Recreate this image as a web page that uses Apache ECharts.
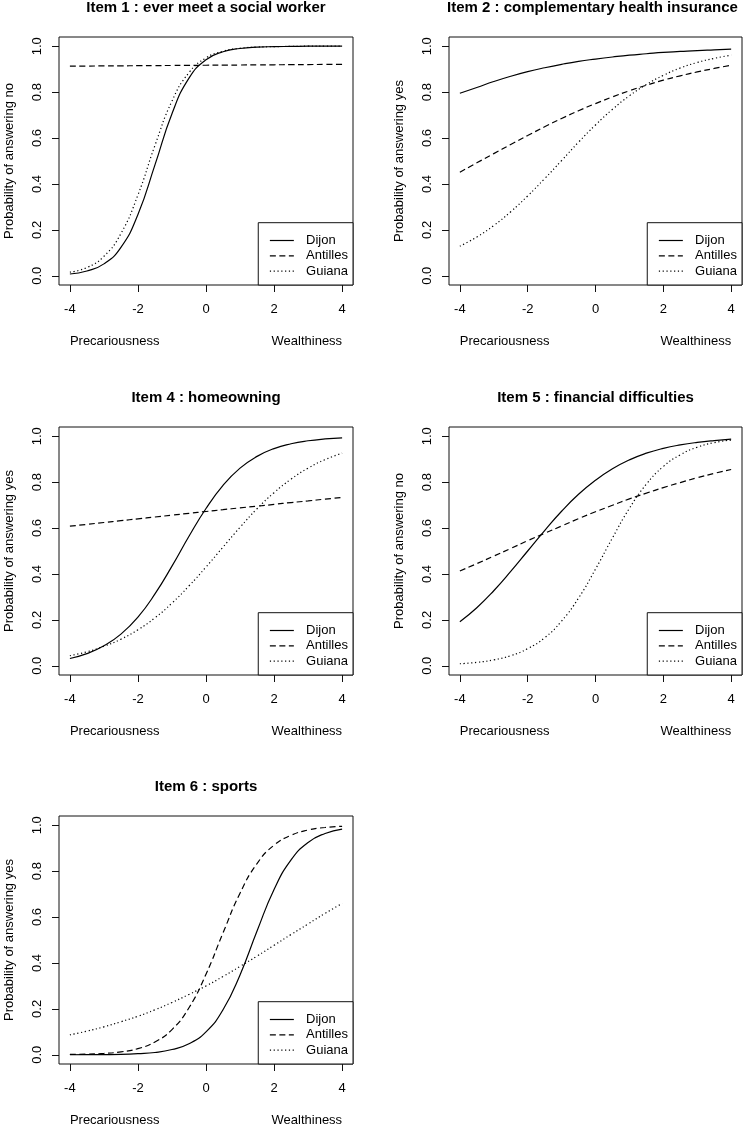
<!DOCTYPE html>
<html>
<head>
<meta charset="utf-8">
<title>Item response curves</title>
<script src="https://cdn.jsdelivr.net/npm/echarts@6/dist/echarts.min.js"></script>
<style>
  html, body { margin: 0; padding: 0; background: #fff; }
  #chart { width: 745px; height: 1124px; }
</style>
</head>
<body>
<div id="chart"></div>
<script>
const xs = [-4, -3.5, -3, -2.5, -2, -1.5, -1, -0.5, 0, 0.5, 1, 1.5, 2, 2.5, 3, 3.5, 4];
const xTicks = [-4, -2, 0, 2, 4];
const yTicks = [0, 0.2, 0.4, 0.6, 0.8, 1];
const groups = ['Dijon', 'Antilles', 'Guiana'];
const titles = [
  'Item 1 : ever meet a social worker',
  'Item 2 : complementary health insurance',
  'Item 4 : homeowning',
  'Item 5 : financial difficulties',
  'Item 6 : sports'
];
const yNames = [
  'Probability of answering no',
  'Probability of answering yes',
  'Probability of answering yes',
  'Probability of answering no',
  'Probability of answering yes'
];

const item1Dijon = [0.008, 0.021, 0.052, 0.124, 0.267, 0.483, 0.706, 0.861, 0.941, 0.976, 0.990, 0.996, 0.998, 0.999, 1.0, 1.0, 1.0];
const item1Antilles = [0.913, 0.9135, 0.914, 0.9145, 0.915, 0.9155, 0.916, 0.9165, 0.917, 0.9175, 0.918, 0.9185, 0.919, 0.9195, 0.920, 0.9205, 0.921];
const item1Guiana = [0.016, 0.036, 0.085, 0.184, 0.352, 0.568, 0.761, 0.885, 0.949, 0.978, 0.991, 0.996, 0.998, 0.999, 1.0, 1.0, 1.0];

const item2Dijon = [0.795, 0.820, 0.846, 0.869, 0.889, 0.906, 0.921, 0.934, 0.944, 0.953, 0.961, 0.967, 0.973, 0.977, 0.981, 0.984, 0.987];
const item2Antilles = [0.451, 0.492, 0.532, 0.572, 0.611, 0.649, 0.685, 0.719, 0.750, 0.779, 0.806, 0.830, 0.852, 0.871, 0.888, 0.903, 0.917];
const item2Guiana = [0.129, 0.169, 0.219, 0.279, 0.348, 0.423, 0.502, 0.582, 0.657, 0.725, 0.784, 0.833, 0.873, 0.905, 0.929, 0.947, 0.961];

const item4Dijon = [0.032, 0.053, 0.087, 0.138, 0.212, 0.313, 0.434, 0.564, 0.685, 0.786, 0.861, 0.912, 0.946, 0.967, 0.980, 0.988, 0.993];
const item4Antilles = [0.608, 0.616, 0.624, 0.632, 0.640, 0.648, 0.656, 0.664, 0.672, 0.680, 0.688, 0.695, 0.703, 0.711, 0.718, 0.726, 0.733];
const item4Guiana = [0.044, 0.061, 0.085, 0.116, 0.157, 0.209, 0.273, 0.348, 0.430, 0.517, 0.603, 0.684, 0.754, 0.813, 0.861, 0.898, 0.926];

const item5Dijon = [0.192, 0.253, 0.327, 0.411, 0.500, 0.589, 0.673, 0.747, 0.808, 0.858, 0.897, 0.926, 0.947, 0.962, 0.973, 0.981, 0.987];
const item5Antilles = [0.413, 0.445, 0.478, 0.511, 0.545, 0.577, 0.609, 0.641, 0.671, 0.699, 0.727, 0.752, 0.776, 0.798, 0.819, 0.838, 0.855];
const item5Guiana = [0.009, 0.015, 0.026, 0.044, 0.075, 0.122, 0.195, 0.295, 0.421, 0.557, 0.686, 0.791, 0.868, 0.919, 0.952, 0.972, 0.983];

const item6Dijon = [0.0002, 0.0005, 0.001, 0.002, 0.005, 0.010, 0.023, 0.048, 0.100, 0.196, 0.348, 0.539, 0.720, 0.849, 0.925, 0.964, 0.983];
const item6Antilles = [0.0015, 0.003, 0.006, 0.013, 0.027, 0.056, 0.110, 0.205, 0.351, 0.531, 0.704, 0.833, 0.913, 0.956, 0.979, 0.990, 0.995];
const item6Guiana = [0.087, 0.103, 0.122, 0.144, 0.168, 0.196, 0.228, 0.263, 0.300, 0.341, 0.385, 0.430, 0.477, 0.524, 0.570, 0.616, 0.659];

const panelData = [
  [item1Dijon, item1Antilles, item1Guiana],
  [item2Dijon, item2Antilles, item2Guiana],
  [item4Dijon, item4Antilles, item4Guiana],
  [item5Dijon, item5Antilles, item5Guiana],
  [item6Dijon, item6Antilles, item6Guiana]
];

// plot boxes (R style, axes padded 4% each side)
const boxes = [
  { left: 59, top: 37, width: 294, height: 248 },
  { left: 449, top: 37, width: 293, height: 248 },
  { left: 59, top: 427, width: 294, height: 248 },
  { left: 449, top: 427, width: 293, height: 248 },
  { left: 59, top: 816, width: 294, height: 248 }
];
const W = 745, H = 1124;
const FONT = '"Liberation Sans", Arial, Helvetica, sans-serif';
const FS = 13;
const dashes = ['solid', [6, 3.5], [1.2, 2.6]];

const chart = echarts.init(document.getElementById('chart'), null, { renderer: 'canvas' });

const grid = [], xAxis = [], yAxis = [], series = [], legend = [], graphic = [];

boxes.forEach(function (b, i) {
  grid.push({
    left: b.left, top: b.top, width: b.width, height: b.height,
    show: true, borderColor: '#111', borderWidth: 1, backgroundColor: 'transparent'
  });
  xAxis.push({
    type: 'value', gridIndex: i, min: -4.32, max: 4.32,
    axisLine: { show: false, onZero: false },
    splitLine: { show: false },
    axisTick: { show: true, length: 7, inside: false, customValues: xTicks, lineStyle: { color: '#111', width: 1 } },
    axisLabel: { show: true, customValues: xTicks, margin: 18, color: '#000', fontSize: FS, fontFamily: FONT }
  });
  yAxis.push({
    type: 'value', gridIndex: i, min: -0.04, max: 1.04,
    name: yNames[i], nameLocation: 'middle', nameGap: 43,
    nameTextStyle: { color: '#000', fontSize: FS, fontFamily: FONT },
    axisLine: { show: false, onZero: false },
    splitLine: { show: false },
    axisTick: { show: true, length: 7, inside: false, customValues: yTicks, lineStyle: { color: '#111', width: 1 } },
    axisLabel: {
      show: true, customValues: yTicks, rotate: 90, margin: 15,
      color: '#000', fontSize: FS, fontFamily: FONT,
      formatter: function (v) { return v.toFixed(1); }
    }
  });
  panelData[i].forEach(function (vals, g) {
    series.push({
      type: 'line', name: groups[g], xAxisIndex: i, yAxisIndex: i,
      data: xs.map(function (x, k) { return [x, vals[k]]; }),
      smooth: 0.5,
      symbol: 'none', showSymbol: false, silent: true, animation: false,
      itemStyle: { color: '#000' },
      lineStyle: { color: '#000', width: 1.2, type: dashes[g] }
    });
  });
  legend.push({
    data: groups, orient: 'vertical',
    right: W - (b.left + b.width), bottom: H - (b.top + b.height),
    padding: [11.3, 5, 7.4, 11], itemWidth: 24, itemHeight: 13, itemGap: 2.3,
    borderColor: '#111', borderWidth: 1, backgroundColor: '#fff',
    selectedMode: false,
    formatter: function (n) { return '  ' + n; },
    textStyle: { color: '#000', fontSize: FS, lineHeight: 13, fontFamily: FONT },
    itemStyle: { opacity: 0 },
    lineStyle: { color: '#000', width: 1.2 }
  });
  graphic.push({
    type: 'text', x: b.left + b.width / 2 - (i === 1 ? 3 : 0), y: b.top - 29,
    style: { text: titles[i], font: 'bold 15px ' + FONT, fill: '#000', align: 'center', verticalAlign: 'middle' }
  });
  const pad = b.width * 0.32 / 8.64;
  graphic.push({
    type: 'text', x: b.left + pad, y: b.top + b.height + 56,
    style: { text: 'Precariousness', font: FS + 'px ' + FONT, fill: '#000', align: 'left', verticalAlign: 'middle' }
  });
  graphic.push({
    type: 'text', x: b.left + b.width - pad, y: b.top + b.height + 56,
    style: { text: 'Wealthiness', font: FS + 'px ' + FONT, fill: '#000', align: 'right', verticalAlign: 'middle' }
  });
});

chart.setOption({
  animation: false,
  backgroundColor: '#fff',
  textStyle: { fontFamily: FONT },
  grid: grid,
  xAxis: xAxis,
  yAxis: yAxis,
  legend: legend,
  series: series,
  graphic: graphic
});
</script>
</body>
</html>
